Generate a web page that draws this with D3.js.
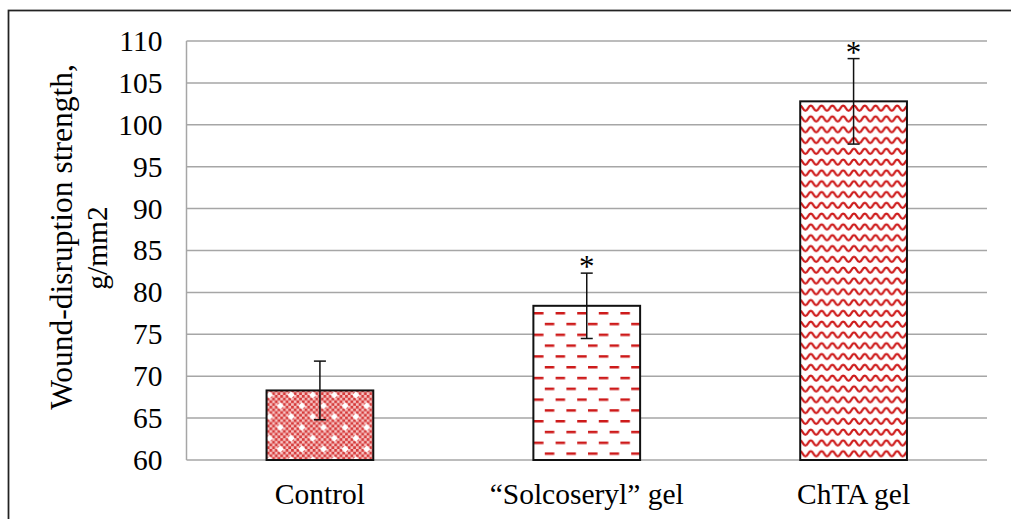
<!DOCTYPE html>
<html><head><meta charset="utf-8">
<script src="https://cdn.jsdelivr.net/npm/d3@7"></script>
<style>html,body{margin:0;padding:0;background:#fff;overflow:hidden}svg{display:block}</style>
</head><body>
<script>
const categories = ["Control", "\u201CSolcoseryl\u201D gel", "ChTA gel"];
const values = [68.3, 78.4, 102.8];
const errors = [3.5, 3.9, 5.1];
const significant = [false, true, true];
const patterns = ["pat-dots", "pat-dash", "pat-wave"];
const yTicks = [60, 65, 70, 75, 80, 85, 90, 95, 100, 105, 110];
const yTitle = ["Wound-disruption strength,", "g/mm2"];

const W = 1011, H = 519;
const RED = "#c80000";
const FONT = "Liberation Serif, Times New Roman, serif";
const FS = 29.5;
const svg = d3.select("body").append("svg").attr("width", W).attr("height", H);
const defs = svg.append("defs");
const P = 21.6, u = P / 8;

// checker (fine halftone)
const chk = defs.append("pattern").attr("id", "pat-chk").attr("patternUnits", "userSpaceOnUse")
  .attr("width", 2 * u).attr("height", 2 * u);
chk.append("rect").attr("width", 2 * u).attr("height", 2 * u).attr("fill", "#f6c4c4");
chk.append("rect").attr("width", u).attr("height", u).attr("fill", RED).attr("opacity", 0.7);
chk.append("rect").attr("x", u).attr("y", u).attr("width", u).attr("height", u).attr("fill", RED).attr("opacity", 0.7);

// control: checker with white sparkles
const dots = defs.append("pattern").attr("id", "pat-dots").attr("patternUnits", "userSpaceOnUse")
  .attr("width", P).attr("height", P).attr("x", 266.5 + 3).attr("y", 395);
dots.append("rect").attr("width", P).attr("height", P).attr("fill", "url(#pat-chk)");
[[0, 0], [P / 2, P / 2], [P, 0], [0, P], [P, P]].forEach(([cx, cy]) => {
  dots.append("path").attr("d", `M${cx - 3.6},${cy}L${cx},${cy - 3.6}L${cx + 3.6},${cy}L${cx},${cy + 3.6}Z`).attr("fill", "#fff");
});

// solcoseryl: dashes
const dash = defs.append("pattern").attr("id", "pat-dash").attr("patternUnits", "userSpaceOnUse")
  .attr("width", P).attr("height", P).attr("x", 533).attr("y", 312);
dash.append("rect").attr("width", P).attr("height", P).attr("fill", "#fff");
dash.append("rect").attr("x", 1).attr("y", 0).attr("width", 9.5).attr("height", 2.5).attr("fill", RED).attr("opacity", 0.9);
dash.append("rect").attr("x", 1 + P / 2).attr("y", P / 2).attr("width", 9.5).attr("height", 2.5).attr("fill", RED).attr("opacity", 0.9);

// chta: smooth waves
const wave = defs.append("pattern").attr("id", "pat-wave").attr("patternUnits", "userSpaceOnUse")
  .attr("width", P).attr("height", P / 2).attr("x", 800).attr("y", 104);
wave.append("rect").attr("width", P).attr("height", P / 2).attr("fill", "#fff");
const h = P / 4;
wave.append("path")
  .attr("d", `M${-h},6.8 C${-h + 2.6},6.8 ${-2.6},1.6 0,1.6 C2.6,1.6 ${h - 2.6},6.8 ${h},6.8 C${h + 2.6},6.8 ${2 * h - 2.6},1.6 ${2 * h},1.6 C${2 * h + 2.6},1.6 ${3 * h - 2.6},6.8 ${3 * h},6.8 C${3 * h + 2.6},6.8 ${4 * h - 2.6},1.6 ${4 * h},1.6 C${4 * h + 2.6},1.6 ${5 * h - 2.6},6.8 ${5 * h},6.8`)
  .attr("fill", "none").attr("stroke", RED).attr("stroke-width", 2.3).attr("opacity", 0.9);

// border
svg.append("rect").attr("x", 8.5).attr("y", 10.5).attr("width", W + 10).attr("height", H + 10)
  .attr("fill", "none").attr("stroke", "#222").attr("stroke-width", 1.75);

const y = d3.scaleLinear().domain([60, 110]).range([460, 41]);
const x = d3.scaleBand().domain(categories).range([186.5, 987]).paddingInner(0.6).paddingOuter(0.3);

// gridlines
svg.append("g").selectAll("line").data(yTicks).join("line")
  .attr("x1", 186.5).attr("x2", 987).attr("y1", d => y(d)).attr("y2", d => y(d))
  .attr("stroke", "#a6a6a6").attr("stroke-width", 1.5);
svg.append("line").attr("x1", 186.5).attr("x2", 186.5).attr("y1", y(110)).attr("y2", y(60))
  .attr("stroke", "#a6a6a6").attr("stroke-width", 1.5);

// y tick labels
const yAxis = d3.axisLeft(y).tickValues(yTicks).tickSize(0).tickPadding(24);
const ga = svg.append("g").attr("transform", "translate(186.5,0)").call(yAxis);
ga.select(".domain").remove();
ga.selectAll("text").attr("font-family", FONT).attr("font-size", FS).attr("fill", "#000");

// x labels
const xAxis = d3.axisBottom(x).tickSize(0).tickPadding(23);
const gx = svg.append("g").attr("transform", "translate(0,460)").call(xAxis);
gx.select(".domain").remove();
gx.selectAll("text").attr("font-family", FONT).attr("font-size", FS).attr("fill", "#000");

// bars
const data = categories.map((c, i) => ({ c, v: values[i], e: errors[i], s: significant[i], p: patterns[i] }));
svg.append("g").selectAll("rect").data(data).join("rect")
  .attr("x", d => x(d.c)).attr("y", d => y(d.v)).attr("width", x.bandwidth()).attr("height", d => y(60) - y(d.v))
  .attr("fill", d => `url(#${d.p})`).attr("stroke", "#111").attr("stroke-width", 2);

// error bars
const eb = svg.append("g").attr("stroke", "#111").attr("stroke-width", 1.5);
data.forEach(d => {
  const cx = x(d.c) + x.bandwidth() / 2;
  eb.append("line").attr("x1", cx).attr("x2", cx).attr("y1", y(d.v + d.e)).attr("y2", y(d.v - d.e));
  eb.append("line").attr("x1", cx - 6).attr("x2", cx + 6).attr("y1", y(d.v + d.e)).attr("y2", y(d.v + d.e));
  eb.append("line").attr("x1", cx - 6).attr("x2", cx + 6).attr("y1", y(d.v - d.e)).attr("y2", y(d.v - d.e));
});

// significance stars
svg.append("g").selectAll("text").data(data.filter(d => d.s)).join("text")
  .attr("x", d => x(d.c) + x.bandwidth() / 2).attr("y", d => y(d.v + d.e) + 4)
  .attr("text-anchor", "middle").attr("font-family", FONT)
  .attr("font-size", 31).text("*");

// y title
const titleSpec = [{ cy: 237, bx: 72, fs: 31.5 }, { cy: 248, bx: 107, fs: FS }];
yTitle.forEach((t, i) => {
  svg.append("text").attr("transform", `translate(${titleSpec[i].bx},${titleSpec[i].cy}) rotate(-90)`)
    .attr("text-anchor", "middle").attr("font-family", FONT).attr("font-size", titleSpec[i].fs).text(t);
});
</script>
</body></html>
